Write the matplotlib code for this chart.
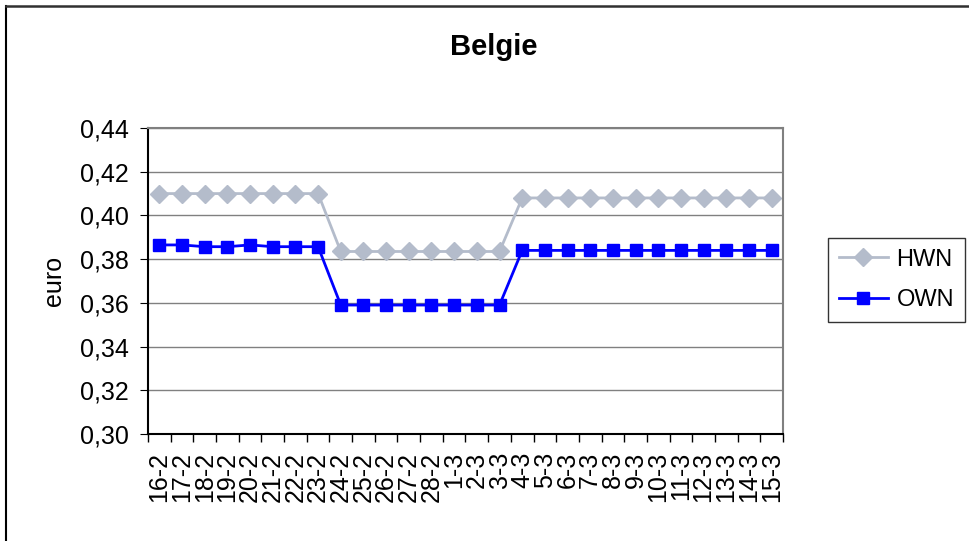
import numpy as np
import matplotlib.pyplot as plt
from matplotlib.ticker import FuncFormatter, FixedLocator

plt.rcParams['font.family'] = ['Liberation Sans', 'DejaVu Sans']

dates = ['16-2', '17-2', '18-2', '19-2', '20-2', '21-2', '22-2', '23-2',
         '24-2', '25-2', '26-2', '27-2', '28-2', '1-3', '2-3', '3-3',
         '4-3', '5-3', '6-3', '7-3', '8-3', '9-3', '10-3', '11-3',
         '12-3', '13-3', '14-3', '15-3']
hwn = [0.410] * 8 + [0.3835] * 8 + [0.408] * 12
own = [0.3865, 0.3865, 0.3857, 0.3857, 0.3865, 0.3857, 0.3857, 0.3857] \
    + [0.359] * 8 + [0.384] * 12

fig = plt.figure(figsize=(9.7, 5.41), dpi=100)
ax = fig.add_axes([148 / 970, 1 - 434 / 541, (783 - 148) / 970, (434 - 128) / 541])

x = np.arange(len(dates))
ax.plot(x, hwn, color='#b4bccb', marker='D', markersize=9, lw=2, label='HWN')
ax.plot(x, own, color='#0000ff', marker='s', markersize=9, lw=2, label='OWN')

ax.set_xlim(-0.5, len(dates) - 0.5)
ax.set_ylim(0.30, 0.44)
ax.set_yticks(np.arange(0.30, 0.441, 0.02))
ax.yaxis.set_major_formatter(FuncFormatter(lambda v, p: ('%.2f' % v).replace('.', ',')))
ax.yaxis.grid(True, color='#808080', lw=1)
ax.set_axisbelow(True)

# category ticks sit between the points, labels on the points
ax.xaxis.set_major_locator(FixedLocator(np.arange(-0.5, len(dates), 1.0)))
ax.set_xticks(x, minor=True)
ax.set_xticklabels(dates, minor=True)
ax.tick_params(axis='x', which='major', length=6, direction='out', labelbottom=False, width=1)
ax.tick_params(axis='x', which='minor', length=0, labelsize=18, labelrotation=90, pad=13)
ax.tick_params(axis='y', length=6, direction='out', labelsize=18, pad=8)

for s in ['left', 'bottom']:
    ax.spines[s].set_color('black')
    ax.spines[s].set_linewidth(1.5)
for s in ['top', 'right']:
    ax.spines[s].set_color('#808080')
    ax.spines[s].set_linewidth(1.5)

ax.set_ylabel('euro', fontsize=18, labelpad=10)
fig.text(494 / 970, 1 - 47 / 541, 'Belgie', ha='center', va='center', fontsize=21, fontweight='bold')

leg = ax.legend(loc='center left', bbox_to_anchor=(828 / 970, 1 - 280 / 541), bbox_transform=fig.transFigure,
                frameon=True, fancybox=False, edgecolor='black', fontsize=17, handlelength=2.1,
                borderpad=0.45, labelspacing=0.8, handletextpad=0.35, borderaxespad=0)
leg.get_frame().set_linewidth(1)

# outer chart border (left and top only visible)
fig.add_artist(plt.Line2D([6.5 / 970, 6.5 / 970], [-0.01, 1 - 5.5 / 541], transform=fig.transFigure,
                          color='black', lw=1.5))
fig.add_artist(plt.Line2D([6.5 / 970, 1.01], [1 - 5.5 / 541, 1 - 5.5 / 541], transform=fig.transFigure,
                          color='#303030', lw=1.8))

fig.savefig('out.png', dpi=100)
